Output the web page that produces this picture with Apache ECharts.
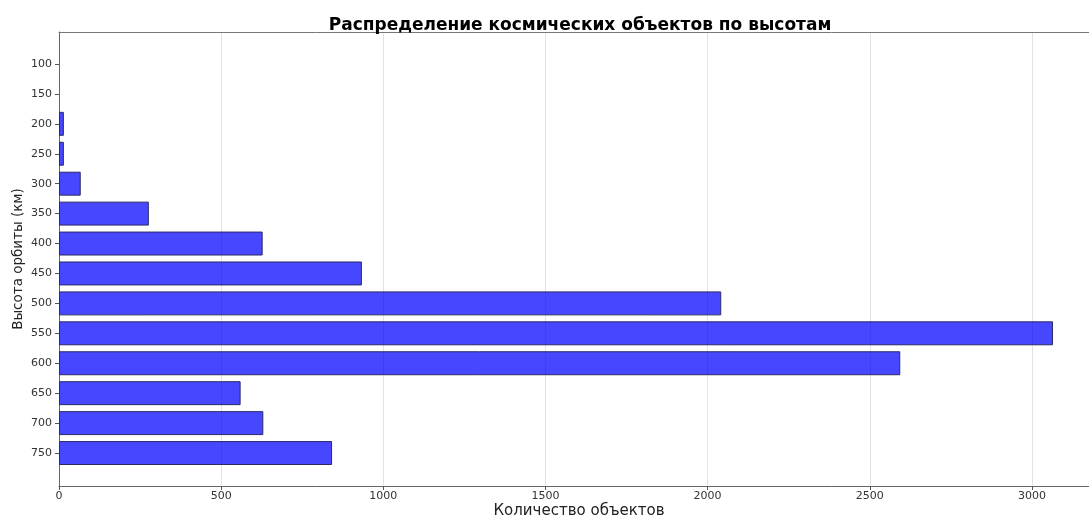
<!DOCTYPE html>
<html>
<head>
<meta charset="utf-8">
<script src="https://cdn.jsdelivr.net/npm/echarts@6/dist/echarts.min.js"></script>
<style>
html,body{margin:0;padding:0;background:#fff;}
#chart{width:1089px;height:517px;}
</style>
</head>
<body>
<div id="chart"></div>
<script>
const altitudes = ['100','150','200','250','300','350','400','450','500','550','600','650','700','750'];
const counts = [0, 0, 15, 15, 67, 277, 628, 934, 2042, 3065, 2594, 560, 630, 842];
const xTicks = [0, 500, 1000, 1500, 2000, 2500, 3000];

const font = 'DejaVu Sans';
const chart = echarts.init(document.getElementById('chart'));
const xMax = 3176;
chart.setOption({
  animation: false,
  backgroundColor: '#ffffff',
  title: {
    text: 'Распределение космических объектов по высотам',
    left: 575, top: 12, textAlign: 'center',
    textStyle: {fontFamily: font, fontSize: 17, fontWeight: 'bold', color: '#000'}
  },
  grid: [
    {left: 59, right: 0, top: 32, bottom: 31, outerBoundsMode: 'none', containLabel: false},
    {left: 59, right: 0, top: 49, bottom: 49, outerBoundsMode: 'none', containLabel: false}
  ],
  xAxis: [
    {
      type: 'value', gridIndex: 0, min: 0, max: xMax, interval: 500,
      name: 'Количество объектов', nameLocation: 'middle', nameGap: 18, nameMoveOverlap: false,
      nameTextStyle: {fontFamily: font, fontSize: 15, color: '#222', padding: [0, 0, 0, 10]},
      axisLine: {show: true, onZero: false, lineStyle: {color: '#666', width: 1}},
      axisTick: {show: true, inside: false, length: 4, lineStyle: {color: '#555'}},
      axisLabel: {fontFamily: font, fontSize: 11, color: '#333', margin: 5, showMaxLabel: false,
        formatter: v => xTicks.includes(v) ? String(v) : ''},
      splitLine: {show: true, lineStyle: {color: '#e2e2e2', width: 1}}
    },
    {
      type: 'value', gridIndex: 0, min: 0, max: xMax, position: 'top',
      axisLine: {show: true, onZero: false, lineStyle: {color: '#777', width: 1}},
      axisTick: {show: false}, axisLabel: {show: false}, splitLine: {show: false}
    },
    {
      type: 'value', gridIndex: 1, min: 0, max: xMax, show: false
    }
  ],
  yAxis: [
    {
      type: 'value', gridIndex: 0, min: 0, max: 1,
      name: 'Высота орбиты (км)', nameLocation: 'middle', nameGap: 34, nameRotate: 90, nameMoveOverlap: false,
      nameTextStyle: {fontFamily: font, fontSize: 13.5, color: '#222'},
      axisLine: {show: true, onZero: false, lineStyle: {color: '#666', width: 1}},
      axisTick: {show: false}, axisLabel: {show: false}, splitLine: {show: false}
    },
    {
      type: 'category', gridIndex: 1, data: altitudes, inverse: true,
      axisLine: {show: false},
      axisTick: {show: true, alignWithLabel: true, length: 4, lineStyle: {color: '#555'}},
      axisLabel: {fontFamily: font, fontSize: 11, color: '#333', margin: 7},
      splitLine: {show: false}
    }
  ],
  series: [{
    type: 'bar', xAxisIndex: 2, yAxisIndex: 1,
    data: counts.map(v => ({value: v, itemStyle: {borderWidth: v > 0 ? 1 : 0}})),
    barWidth: '80%',
    itemStyle: {color: 'rgba(0,0,255,0.72)', borderColor: '#2a2a66', borderWidth: 1}
  }]
});
</script>
</body>
</html>
